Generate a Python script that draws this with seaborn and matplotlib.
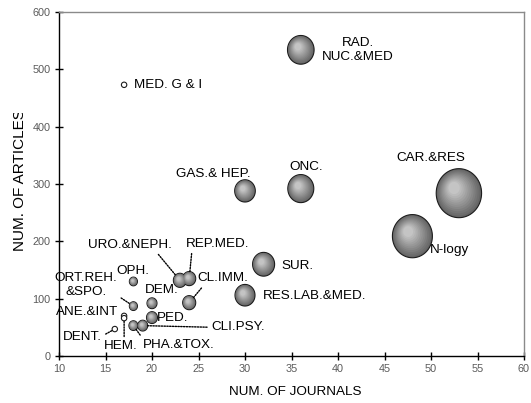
import numpy as np
import pandas as pd
import matplotlib
matplotlib.use("Agg")
import matplotlib.pyplot as plt
import seaborn as sns
from matplotlib.colors import to_rgb
from matplotlib.path import Path
from matplotlib.transforms import Bbox, TransformedBbox

# ---- data -------------------------------------------------------------
fields = ["MED. G & I", "RAD.\nNUC.&MED", "GAS.& HEP.", "ONC.", "CAR.&RES",
          "N-logy", "SUR.", "RES.LAB.&MED.", "URO.&NEPH.", "REP.MED.",
          "CL.IMM.", "OPH.", "ORT.REH.\n&SPO.", "DEM.", "PED.",
          "ANE.&INT", "DENT.", "HEM.", "PHA.&TOX.", "CLI.PSY."]
journals = [17, 36, 30, 36, 53, 48, 32, 30, 23, 24,
            24, 18, 18, 20, 20, 17, 16, 17, 18, 19]
articles = [473, 534, 288, 292, 284, 209, 160, 106, 132, 135,
            93, 130, 87, 92, 67, 70, 47, 66, 53, 53]
bubble = [1.0, 28.3, 17.0, 27.0, 82.4, 64.0, 19.4, 16.0, 6.8, 6.8,
          6.8, 2.6, 2.6, 4.0, 4.8, 1.0, 1.0, 1.0, 3.2, 4.0]

x_ticks = [10, 15, 20, 25, 30, 35, 40, 45, 50, 55, 60]
y_ticks = [0, 100, 200, 300, 400, 500, 600]

df = pd.DataFrame({"field": fields, "journals": journals,
                   "articles": articles, "bubble": bubble})

# ---- label placement (offset in points, alignment, leader anchor) -----
label_layout = {
    "MED. G & I":      dict(off=(7, 0), ha="left"),
    "RAD.\nNUC.&MED":  dict(off=(41, 0), ha="center"),
    "GAS.& HEP.":      dict(off=(-23, 12.5), ha="center"),
    "ONC.":            dict(off=(4, 15.5), ha="center"),
    "CAR.&RES":        dict(off=(-20, 25), ha="center"),
    "N-logy":          dict(off=(12.5, -10), ha="left"),
    "SUR.":            dict(off=(13, -1), ha="left"),
    "RES.LAB.&MED.":   dict(off=(13, -0.5), ha="left"),
    "URO.&NEPH.":      dict(off=(-36, 25.7), ha="center", rel=(0.79, 0.1)),
    "REP.MED.":        dict(off=(20.4, 25.2), ha="center", rel=(0.1, 0.1)),
    "CL.IMM.":         dict(off=(24.3, 17.6), ha="center", rel=(0.16, 0.1)),
    "OPH.":            dict(off=(-0.6, 7.4), ha="center"),
    "ORT.REH.\n&SPO.": dict(off=(-34.2, 15.1), ha="center", rel=(0.885, 0.29)),
    "DEM.":            dict(off=(6.8, 9.6), ha="center"),
    "PED.":            dict(off=(3.2, 0), ha="left"),
    "ANE.&INT":        dict(off=(-4.1, 3.1), ha="right"),
    "DENT.":           dict(off=(-23.4, -6), ha="center", rel=(1.0, 0.6)),
    "HEM.":            dict(off=(-2.4, -20.4), ha="center", rel=(0.6, 1.0)),
    "PHA.&TOX.":       dict(off=(33, -13.9), ha="center", rel=(0.03, 0.7)),
    "CLI.PSY.":        dict(off=(49.2, -1.2), ha="left", rel=(0.0, 0.5)),
}

# ---- style --------------------------------------------------------------
sns.set_theme(style="white")
plt.rcParams["font.family"] = ["Liberation Sans", "DejaVu Sans"]

DPI = 100
fig = plt.figure(figsize=(5.31, 4.03), dpi=DPI)
ax = fig.add_axes([59 / 531, 1 - 356 / 403, 465 / 531, 344 / 403])
ax.set_xlim(10, 60)
ax.set_ylim(0, 600)

# bubble radius in pixels grows with sqrt(value) (area ~ value)
PX_PER_UNIT = 2.5
ASPECT = 1.08
radius_px = PX_PER_UNIT * np.sqrt(df["bubble"].to_numpy())

theta = np.linspace(0, 2 * np.pi, 73)
ellipse = Path(np.column_stack([np.cos(theta), ASPECT * np.sin(theta)]),
               closed=True)


def marker_area(r_px):
    return (2 * r_px * ASPECT * 72 / DPI) ** 2


bbox = ax.get_window_extent()
px_x = bbox.width / 50.0
px_y = bbox.height / 600.0

is_open = df["bubble"].to_numpy() <= 1.0
filled = df[~is_open]
r_f = radius_px[~is_open]

dark = np.array(to_rgb("#646464"))
light = np.array(to_rgb("#c4c4c4"))
n_layers = 12
for k in range(n_layers):
    f = 1 - 0.82 * k / n_layers
    t = k / (n_layers - 1)
    col = tuple(dark * (1 - t) + light * t)
    shift = 0.28 * (1 - f) * r_f
    xs = filled["journals"].to_numpy() - shift / px_x
    ys = filled["articles"].to_numpy() + shift * ASPECT / px_y
    sns.scatterplot(x=xs, y=ys, s=marker_area(r_f * f), marker=ellipse,
                    color=col,
                    edgecolor="#1c1c1c" if k == 0 else "none",
                    linewidth=0.8 if k == 0 else 0,
                    legend=False, ax=ax, zorder=3 + k * 0.01)

opened = df[is_open]
sns.scatterplot(data=opened, x="journals", y="articles",
                s=marker_area(radius_px[is_open]), marker="o",
                color="white", edgecolor="#1c1c1c", linewidth=0.8,
                legend=False, ax=ax, zorder=4)

# ---- labels ---------------------------------------------------------------
for i, row in df.iterrows():
    lay = label_layout[row["field"]]
    kw = dict(xy=(row["journals"], row["articles"]), xytext=lay["off"],
              textcoords="offset points", ha=lay["ha"], va="center",
              multialignment="center", linespacing=1.25,
              fontsize=9.7, color="black", zorder=6)
    if "rel" in lay:
        kw["arrowprops"] = dict(arrowstyle="-", linestyle=(0, (1, 1)),
                                lw=1.0, color="black", relpos=lay["rel"],
                                shrinkA=0.5,
                                shrinkB=radius_px[i] * 72 / DPI)
    ax.annotate(row["field"], **kw)

# ---- axes -----------------------------------------------------------------
ax.set_xticks(x_ticks)
ax.set_yticks(y_ticks)
ax.tick_params(direction="inout", length=6, width=1, color="black",
               labelsize=7.8, labelcolor="#5a5a5a", pad=3,
               bottom=True, left=True)
for side in ("left", "bottom"):
    ax.spines[side].set_color("black")
    ax.spines[side].set_linewidth(1.0)
for side in ("top", "right"):
    ax.spines[side].set_color("#8a8a8a")
    ax.spines[side].set_linewidth(1.0)

ax.set_xlabel("NUM. OF JOURNALS", fontsize=9.7, color="black")
ax.xaxis.set_label_coords((295 - 59) / 465, -(386 - 356) / 344)

# the y title sits in a narrow frame that trims its last letter
ylab = ax.set_ylabel("NUM. OF ARTICLES", fontsize=11, color="black")
ax.yaxis.set_label_coords((27 - 59) / 465, (356 - 180) / 344)
ylab.set_clip_on(True)
ylab.set_clip_box(TransformedBbox(Bbox.from_extents(0, 0, 1, 1 - 113 / 403),
                                  fig.transFigure))

fig.savefig("out.png", dpi=DPI, facecolor="white")
